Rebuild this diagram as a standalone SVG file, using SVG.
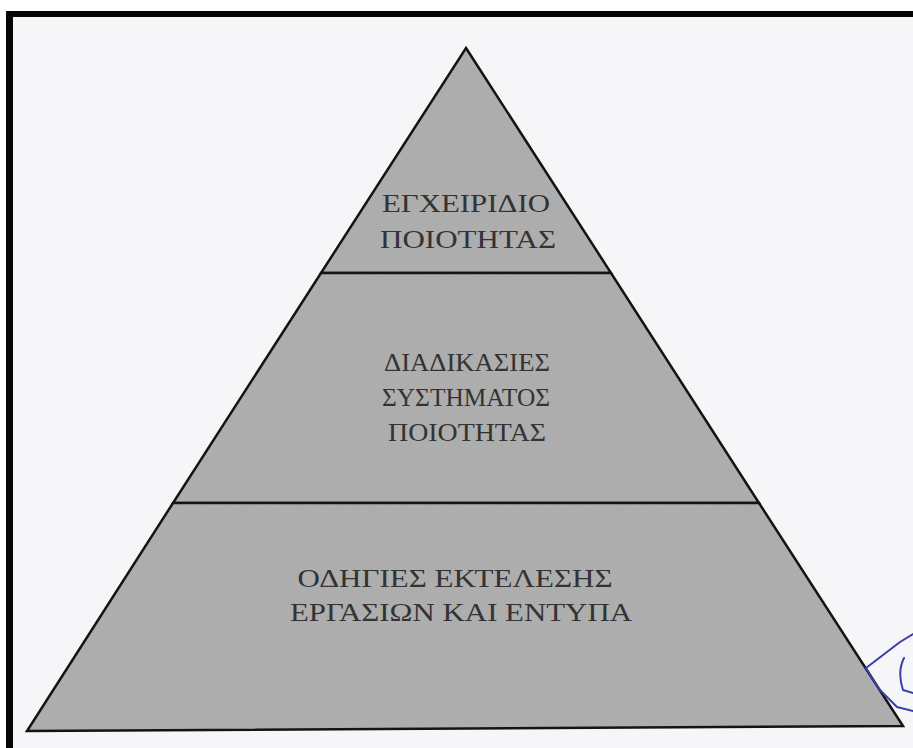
<svg xmlns="http://www.w3.org/2000/svg" width="913" height="748" viewBox="0 0 913 748">
  <style>
    .fill { fill: #aaaaaa; stroke: none; }
    .edge { fill: none; stroke: #141414; stroke-width: 2.5; stroke-linejoin: miter; }
    .lbl { font-family: "Liberation Serif", "Times New Roman", serif; font-size: 26px; fill: #333333; text-anchor: middle; }
    .pen { fill: none; stroke: #3a3fb0; stroke-width: 2; stroke-linecap: round; stroke-linejoin: round; }
  </style>
  <defs>
    <filter id="grain" x="0" y="0" width="100%" height="100%">
      <feTurbulence type="fractalNoise" baseFrequency="0.9" numOctaves="2" seed="3" result="n"/>
      <feColorMatrix in="n" type="matrix" values="0 0 0 0 0.5  0 0 0 0 0.5  0 0 0 0 0.5  0 0 0 0.35 0" result="g"/>
      <feComposite in="g" in2="SourceGraphic" operator="atop"/>
    </filter>
  </defs>
  <rect x="0" y="0" width="913" height="748" fill="#f6f6f8"/>
  <rect x="0" y="0" width="913" height="11" fill="#ffffff"/>
  <rect x="0" y="0" width="6" height="748" fill="#ffffff"/>
  <rect x="6" y="11" width="907" height="6" fill="#050505"/>
  <rect x="6" y="11" width="7" height="737" fill="#050505"/>

  <g id="tier-top">
    <polygon class="fill" filter="url(#grain)" points="466,48 611,273 321,273"/>
    <polygon class="edge" points="466,48 611,273 321,273"/>
    <text class="lbl" x="466" y="212" textLength="168" lengthAdjust="spacingAndGlyphs">ΕΓΧΕΙΡΙΔΙΟ</text>
    <text class="lbl" x="468" y="248" textLength="176" lengthAdjust="spacingAndGlyphs">ΠΟΙΟΤΗΤΑΣ</text>
  </g>
  <g id="tier-middle">
    <polygon class="fill" filter="url(#grain)" points="321,273 611,273 759,503 173,503"/>
    <polygon class="edge" points="321,273 611,273 759,503 173,503"/>
    <text class="lbl" x="467" y="371" textLength="166" lengthAdjust="spacingAndGlyphs">ΔΙΑΔΙΚΑΣΙΕΣ</text>
    <text class="lbl" x="466" y="406" textLength="168" lengthAdjust="spacingAndGlyphs">ΣΥΣΤΗΜΑΤΟΣ</text>
    <text class="lbl" x="467" y="441" textLength="158" lengthAdjust="spacingAndGlyphs">ΠΟΙΟΤΗΤΑΣ</text>
  </g>
  <g id="tier-bottom">
    <polygon class="fill" filter="url(#grain)" points="173,503 759,503 903,726 27,731"/>
    <polygon class="edge" points="173,503 759,503 903,726 27,731"/>
    <text class="lbl" x="455" y="587" font-size="24" textLength="315" lengthAdjust="spacingAndGlyphs">ΟΔΗΓΙΕΣ ΕΚΤΕΛΕΣΗΣ</text>
    <text class="lbl" x="461" y="621" font-size="24" textLength="342" lengthAdjust="spacingAndGlyphs">ΕΡΓΑΣΙΩΝ ΚΑΙ ΕΝΤΥΠΑ</text>
  </g>
  <g id="pen-mark">
    <path class="pen" d="M 913 634 L 900 642 L 866 668 L 878 688 L 897 707 L 913 711"/>
    <path class="pen" d="M 904 658 Q 897 672 903 690 L 913 693"/>
  </g>
</svg>
